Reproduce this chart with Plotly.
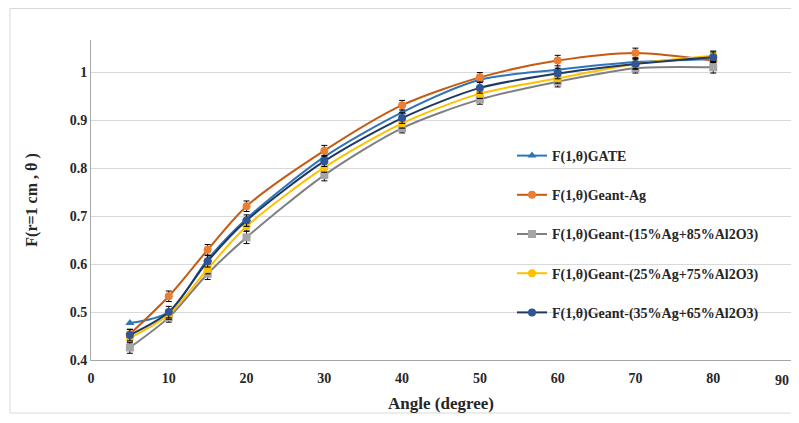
import plotly.graph_objects as go

angles = [5, 10, 15, 20, 30, 40, 50, 60, 70, 80]
x_ticks = [0, 10, 20, 30, 40, 50, 60, 70, 80, 90]
x_tick_labels = ["0", "10", "20", "30", "40", "50", "60", "70", "80", "90"]

gate = [0.477, 0.500, 0.610, 0.695, 0.824, 0.917, 0.985, 1.006, 1.022, 1.028]
geant_ag = [0.454, 0.533, 0.630, 0.721, 0.837, 0.932, 0.990, 1.025, 1.041, 1.025]
geant_15 = [0.426, 0.489, 0.580, 0.656, 0.786, 0.884, 0.944, 0.981, 1.009, 1.011]
geant_25 = [0.446, 0.495, 0.590, 0.679, 0.802, 0.894, 0.956, 0.988, 1.018, 1.035]
geant_35 = [0.452, 0.500, 0.606, 0.691, 0.815, 0.905, 0.968, 0.998, 1.018, 1.032]

err_ag = [0.010, 0.011, 0.011, 0.011, 0.011, 0.010, 0.010, 0.011, 0.010, 0.010]
err_15 = [0.012, 0.010, 0.012, 0.013, 0.012, 0.010, 0.010, 0.011, 0.010, 0.012]
err_25 = [0.010, 0.010, 0.010, 0.010, 0.010, 0.010, 0.010, 0.010, 0.010, 0.010]
err_35 = [0.012, 0.012, 0.012, 0.012, 0.011, 0.011, 0.011, 0.011, 0.011, 0.011]

names = [
    "F(1,θ)GATE",
    "F(1,θ)Geant-Ag",
    "F(1,θ)Geant-(15%Ag+85%Al2O3)",
    "F(1,θ)Geant-(25%Ag+75%Al2O3)",
    "F(1,θ)Geant-(35%Ag+65%Al2O3)",
]

series = [gate, geant_ag, geant_15, geant_25, geant_35]
errors = [None, err_ag, err_15, err_25, err_35]
line_colors = ["#2E75B6", "#C55A11", "#7F7F7F", "#FFC000", "#1F3864"]
marker_colors = ["#2E75B6", "#ED7D31", "#A5A5A5", "#FFC000", "#2F5597"]
symbols = ["triangle-up", "circle", "square", "circle", "circle"]

fig = go.Figure()
for i, (nm, ys, er) in enumerate(zip(names, series, errors)):
    kw = {}
    if er is not None:
        kw["error_y"] = dict(type="data", array=er, visible=True,
                             color="black", thickness=1, width=3)
    fig.add_trace(go.Scatter(
        x=angles, y=ys, name=nm, mode="lines+markers",
        line=dict(color=line_colors[i], width=2, shape="spline", smoothing=0.8),
        marker=dict(color=marker_colors[i], symbol=symbols[i], size=8),
        legendgroup=f"g{i}",
        **kw,
    ))

font_family = "Liberation Serif, Times New Roman, serif"
tick_font = dict(family=font_family, size=14, color="#262626", weight="bold")

# page is offset by the 8px body margin; plot area targets page x 91-791, y 40-360
def px(page_x):
    return (page_x - 91) / 700

def py(page_y):
    return (360 - page_y) / 320

fig.update_layout(
    width=791, height=407,
    margin=dict(l=83, r=8, t=32, b=55, autoexpand=False),
    paper_bgcolor="white", plot_bgcolor="white",
    font=dict(family=font_family, color="#262626"),
    showlegend=True,
    legend=dict(
        x=px(512), y=(216 + 4) / 320,
        xanchor="left", yanchor="top",
        bgcolor="rgba(0,0,0,0)",
        font=dict(family=font_family, size=14, color="#262626", weight="bold"),
        tracegroupgap=18,
        itemwidth=30,
    ),
    shapes=[
        dict(type="rect", xref="paper", yref="paper",
             x0=px(10), x1=px(840), y0=py(413), y1=py(8.5),
             line=dict(color="#D9D9D9", width=1), layer="below"),
    ],
    annotations=[
        # last tick label kept fully inside the visible page
        dict(x=x_ticks[-1], y=0, xref="x", yref="paper",
             text=x_tick_labels[-1], showarrow=False,
             xanchor="right", yanchor="top", yshift=-11,
             font=tick_font),
    ],
)

fig.update_xaxes(
    range=[0, 90], tickvals=x_ticks,
    ticktext=x_tick_labels[:-1] + [""],
    automargin=False,
    showgrid=False, zeroline=False,
    showline=True, linecolor="#A6A6A6", linewidth=1,
    ticks="", ticklen=0, ticklabelstandoff=5,
    tickfont=tick_font,
    title=dict(text="Angle (degree)", standoff=12,
               font=dict(family=font_family, size=17, color="#262626", weight="bold")),
)
fig.update_yaxes(
    range=[0.4, 1.068], tickvals=[0.4, 0.5, 0.6, 0.7, 0.8, 0.9, 1.0],
    ticktext=["0.4", "0.5", "0.6", "0.7", "0.8", "0.9", "1"],
    automargin=False,
    showgrid=True, gridcolor="#D9D9D9", gridwidth=1,
    zeroline=False,
    showline=True, linecolor="#A6A6A6", linewidth=1,
    ticks="", ticklen=0,
    tickfont=tick_font,
    title=dict(text="F(r=1 cm , θ )", standoff=28,
               font=dict(family=font_family, size=16, color="#262626", weight="bold")),
)

fig.write_html("out.html")
